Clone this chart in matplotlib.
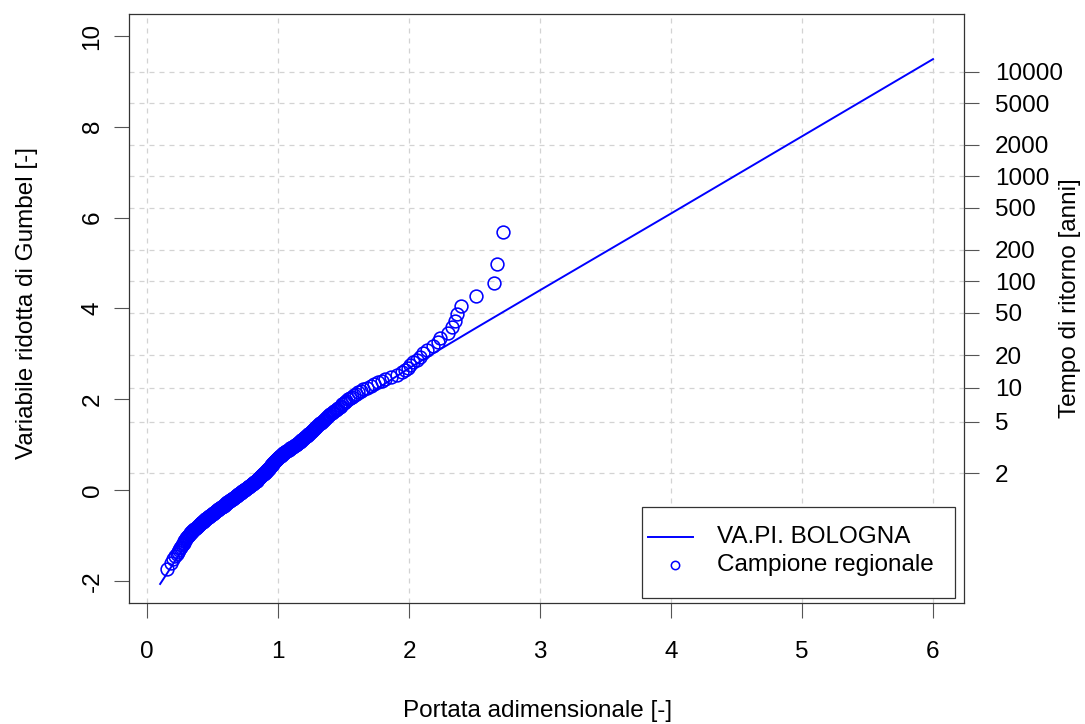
import numpy as np
import matplotlib
matplotlib.use("Agg")
import matplotlib.pyplot as plt
from matplotlib.patches import Rectangle

plt.rcParams['font.family'] = ['Liberation Sans', 'DejaVu Sans']

# Sorted regional sample (dimensionless discharge)
sample_x = [
    0.15, 0.18, 0.20, 0.215, 0.225, 0.235, 0.245, 0.25, 0.26, 0.27,
    0.275, 0.28, 0.285, 0.29, 0.295, 0.30, 0.305, 0.31, 0.315, 0.32,
    0.325, 0.33, 0.335, 0.34, 0.345, 0.35, 0.36, 0.365, 0.37, 0.38,
    0.385, 0.39, 0.395, 0.40, 0.405, 0.41, 0.415, 0.42, 0.425, 0.43,
    0.435, 0.44, 0.445, 0.45, 0.455, 0.46, 0.465, 0.47, 0.475, 0.48,
    0.485, 0.49, 0.495, 0.50, 0.505, 0.51, 0.515, 0.52, 0.525, 0.53,
    0.535, 0.54, 0.545, 0.55, 0.555, 0.56, 0.565, 0.57, 0.575, 0.58,
    0.584, 0.588, 0.592, 0.596, 0.60, 0.604, 0.608, 0.612, 0.616, 0.62,
    0.625, 0.63, 0.635, 0.64, 0.645, 0.65, 0.655, 0.66, 0.665, 0.67,
    0.674, 0.678, 0.682, 0.686, 0.69, 0.694, 0.698, 0.702, 0.706, 0.71,
    0.715, 0.72, 0.724, 0.728, 0.733, 0.737, 0.741, 0.746, 0.75, 0.755,
    0.76, 0.764, 0.769, 0.773, 0.778, 0.782, 0.787, 0.791, 0.796, 0.80,
    0.804, 0.808, 0.812, 0.816, 0.82, 0.824, 0.828, 0.832, 0.836, 0.84,
    0.843, 0.846, 0.849, 0.852, 0.855, 0.858, 0.861, 0.864, 0.867, 0.87,
    0.874, 0.878, 0.882, 0.886, 0.89, 0.894, 0.898, 0.902, 0.906, 0.91,
    0.913, 0.916, 0.919, 0.922, 0.925, 0.928, 0.931, 0.934, 0.937, 0.94,
    0.943, 0.946, 0.949, 0.952, 0.955, 0.958, 0.961, 0.964, 0.967, 0.97,
    0.974, 0.978, 0.982, 0.986, 0.99, 0.994, 0.998, 1.002, 1.006, 1.01,
    1.015, 1.02, 1.025, 1.03, 1.035, 1.04, 1.045, 1.05, 1.055, 1.06,
    1.067, 1.074, 1.081, 1.088, 1.095, 1.102, 1.109, 1.116, 1.123, 1.13,
    1.136, 1.142, 1.148, 1.154, 1.16, 1.166, 1.172, 1.178, 1.184, 1.19,
    1.196, 1.202, 1.208, 1.214, 1.22, 1.226, 1.232, 1.238, 1.244, 1.25,
    1.256, 1.262, 1.268, 1.274, 1.28, 1.286, 1.292, 1.298, 1.304, 1.31,
    1.318, 1.326, 1.334, 1.342, 1.35, 1.358, 1.366, 1.374, 1.382, 1.39,
    1.40, 1.41, 1.42, 1.43, 1.44, 1.45, 1.46, 1.47, 1.48, 1.49,
    1.50, 1.51, 1.52, 1.535, 1.55, 1.565, 1.58, 1.595, 1.61, 1.63,
    1.65, 1.68, 1.71, 1.73, 1.76,
    1.79, 1.82, 1.86, 1.91, 1.95,
    1.97, 1.99, 2.01, 2.03, 2.06,
    2.08, 2.11, 2.14, 2.18, 2.22,
    2.24, 2.30, 2.33, 2.35, 2.37,
    2.40, 2.51, 2.65, 2.67, 2.72,
]

# VA.PI. Bologna growth curve, vertices
curve_x = [0.1, 0.15, 0.25, 0.5, 0.75, 1.0, 1.25, 1.5, 1.75, 2.0, 2.25, 2.5, 3.0, 4.0, 5.0, 6.0]
curve_y = [-2.07, -1.85, -1.40, -0.65, 0.02, 0.65, 1.22, 1.75, 2.22, 2.68, 3.12, 3.55, 4.40, 6.09, 7.79, 9.49]

return_periods = [2, 5, 10, 20, 50, 100, 200, 500, 1000, 2000, 5000, 10000]
x_ticks = [0, 1, 2, 3, 4, 5, 6]
y_ticks = [-2, 0, 2, 4, 6, 8, 10]
legend_labels = ['VA.PI. BOLOGNA', 'Campione regionale']

# Gumbel reduced variate of Weibull plotting positions
n = len(sample_x)
ranks = np.arange(1, n + 1)
sample_y = -np.log(-np.log(ranks / (n + 1.0)))
rp = np.array(return_periods, dtype=float)
rp_y = -np.log(-np.log(1.0 - 1.0 / rp))

FS = 17.5
BLUE = '#0000FF'

fig = plt.figure(figsize=(10.85, 7.24), dpi=100)
ax = fig.add_axes([0.1191, 0.1677, 0.7693, 0.8127])

ax.set_xlim(-0.136, 6.236)
ax.set_ylim(-2.48, 10.48)

# grid
for xv in x_ticks:
    ax.axvline(xv, color='#d3d3d3', linestyle=(0, (4, 4)), linewidth=0.9, zorder=0)
for yv in rp_y:
    ax.axhline(yv, color='#d3d3d3', linestyle=(0, (4, 4)), linewidth=0.9, zorder=0)

ax.plot(curve_x, curve_y, color=BLUE, linewidth=1.4, zorder=3)
ax.plot(sample_x, sample_y, linestyle='none', marker='o', markersize=9.2,
        markerfacecolor='none', markeredgecolor=BLUE, markeredgewidth=1.15, zorder=4)

ax.set_xticks(x_ticks)
ax.set_yticks(y_ticks)
ax.set_xticklabels([str(v) for v in x_ticks])
ax.set_yticklabels([str(v) for v in y_ticks], rotation=90, va='center')
ax.tick_params(axis='both', direction='out', length=10.5, width=0.8, color='#555555',
               labelsize=FS)
ax.tick_params(axis='x', pad=17)
ax.tick_params(axis='y', pad=8)
for s in ax.spines.values():
    s.set_color('#333333')
    s.set_linewidth(0.9)

# right axis: return period
ax2 = ax.twinx()
ax2.set_ylim(ax.get_ylim())
ax2.set_yticks(rp_y)
ax2.set_yticklabels([str(v) for v in return_periods])
ax2.tick_params(axis='y', direction='out', length=10.5, width=0.8, color='#555555',
                labelsize=FS, pad=11.8)
for s in ax2.spines.values():
    s.set_visible(False)

# axis titles (placed like R's mtext lines)
W, H = 1085.0, 724.0
fig.text(538 / W, 1 - 711 / H, 'Portata adimensionale [-]', fontsize=FS,
         ha='center', va='center')
fig.text(27 / W, 1 - 303 / H, 'Variabile ridotta di Gumbel [-]', fontsize=FS,
         ha='center', va='center', rotation=90)
fig.text(1070 / W, 1 - 298 / H, 'Tempo di ritorno [anni]', fontsize=FS,
         ha='center', va='center', rotation=90)

# legend (R-style box)
ax.add_patch(Rectangle((0.6143, 0.0078), 0.9893 - 0.6143, 0.1625 - 0.0078,
                       transform=ax.transAxes, facecolor='white', edgecolor='#333333',
                       linewidth=0.9, zorder=5))
ax.plot([0.6215, 0.6753], [0.1115, 0.1115], transform=ax.transAxes, color=BLUE,
        linewidth=1.4, zorder=6)
ax.plot([0.6539], [0.0639], transform=ax.transAxes, linestyle='none', marker='o',
        markersize=6.0, markerfacecolor='none', markeredgecolor=BLUE,
        markeredgewidth=1.1, zorder=6)
ax.text(0.7042, 0.1115, legend_labels[0], transform=ax.transAxes, fontsize=FS,
        ha='left', va='center', zorder=6)
ax.text(0.7042, 0.0639, legend_labels[1], transform=ax.transAxes, fontsize=FS,
        ha='left', va='center', zorder=6)

fig.savefig('out.png', dpi=100)
